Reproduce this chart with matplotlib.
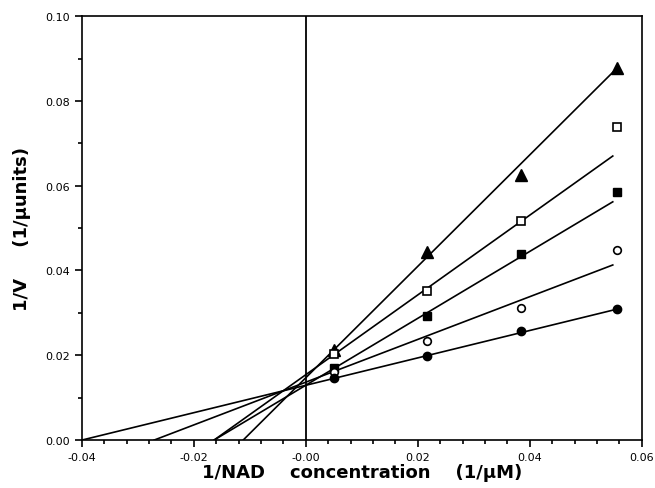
import matplotlib
matplotlib.use("Agg")
import matplotlib.pyplot as plt
from matplotlib.ticker import MultipleLocator, FuncFormatter

# 1/[NAD] values where points were measured
inv_nad = [0.0050, 0.0217, 0.0385, 0.0556]

# 1/V for each series
tri_filled = [0.0213, 0.0444, 0.0625, 0.0878]
sq_open = [0.0203, 0.0351, 0.0517, 0.0738]
sq_filled = [0.0169, 0.0292, 0.0438, 0.0584]
circ_open = [0.0161, 0.0233, 0.0312, 0.0448]
circ_filled = [0.0146, 0.0199, 0.0258, 0.0309]

# fitted lines: start (x-intercept) and end point
line_x0 = [-0.0112, -0.0164, -0.0164, -0.0271, -0.0400]
line_x1 = [0.0556, 0.0548, 0.0548, 0.0548, 0.0556]
line_y1 = [0.0878, 0.0670, 0.0562, 0.0413, 0.0309]

fig = plt.figure(figsize=(6.55, 4.89), dpi=100)
ax = fig.add_axes([0.125, 0.098, 0.855, 0.867])

for x0, x1, y1 in zip(line_x0, line_x1, line_y1):
    ax.plot([x0, x1], [0, y1], color="black", lw=1.2, zorder=2)

ax.plot(inv_nad, tri_filled, "^", color="black", ms=8, zorder=3)
ax.plot(inv_nad, sq_open, "s", mfc="white", mec="black", mew=1.2, ms=5.5, zorder=3)
ax.plot(inv_nad, sq_filled, "s", color="black", ms=6, zorder=3)
ax.plot(inv_nad, circ_open, "o", mfc="white", mec="black", mew=1.2, ms=5.5, zorder=3)
ax.plot(inv_nad, circ_filled, "o", color="black", ms=6, zorder=3)

ax.axvline(0, color="black", lw=1.3, zorder=1)

ax.set_xlim(-0.04, 0.06)
ax.set_ylim(0, 0.10)
ax.xaxis.set_major_locator(MultipleLocator(0.02))
ax.xaxis.set_minor_locator(MultipleLocator(0.004))
ax.yaxis.set_major_locator(MultipleLocator(0.02))
ax.yaxis.set_minor_locator(MultipleLocator(0.01))


def fmt_x(v, pos):
    if abs(v) < 1e-9:
        return "-0.00"
    return "%.2f" % v


def fmt_y(v, pos):
    return "%.2f" % abs(v) if abs(v) < 1e-9 else "%.2f" % v


ax.xaxis.set_major_formatter(FuncFormatter(fmt_x))
ax.yaxis.set_major_formatter(FuncFormatter(fmt_y))
ax.tick_params(which="both", direction="out", top=False, right=False, labelsize=8, width=1.2)
ax.tick_params(which="major", length=5)
ax.tick_params(which="minor", length=3)
for s in ax.spines.values():
    s.set_linewidth(1.2)

ax.set_xlabel("1/NAD    concentration    (1/\u03bcM)", fontsize=13, fontweight="bold", labelpad=1)
ax.set_ylabel("1/V     (1/\u03bcunits)", fontsize=13, fontweight="bold", labelpad=10)

fig.savefig("out.png", dpi=100)
